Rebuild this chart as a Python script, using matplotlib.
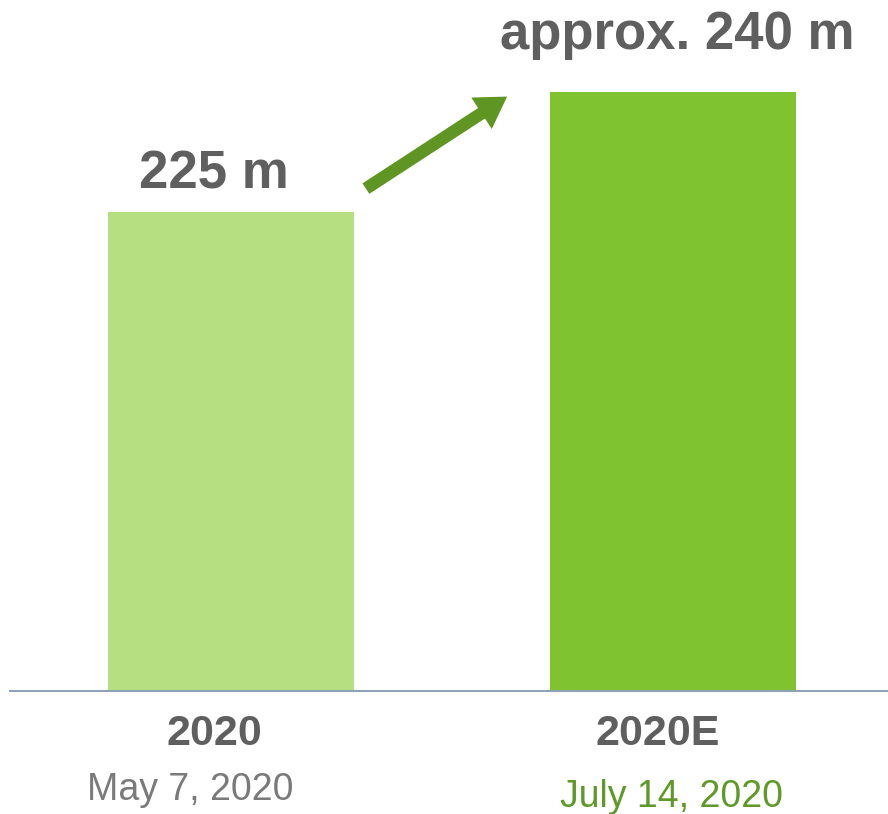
import matplotlib.pyplot as plt
from matplotlib.patches import FancyArrowPatch

plt.rcParams['font.family'] = ['Liberation Sans', 'DejaVu Sans']

# data
categories = ['2020', '2020E']
values = [225, 240]
value_labels = ['225 m', 'approx. 240 m']
dates = ['May 7, 2020', 'July 14, 2020']

bar_colors = ['#b5df80', '#80c330']
date_colors = ['#7a7a7a', '#5f9a28']
text_gray = '#5f5f5f'
arrow_green = '#5f9623'

fig = plt.figure(figsize=(8.88, 8.14), dpi=100)
ax = fig.add_axes([0, 0.1511, 1, 0.8489])

x = list(range(len(categories)))
ax.bar(x, values, width=0.5566, color=bar_colors)

ax.set_xlim(-0.5226, 1.4864)
ax.set_ylim(165, 251.5)

for side in ['top', 'right', 'left']:
    ax.spines[side].set_visible(False)
ax.spines['bottom'].set_color('#8fa3b6')
ax.spines['bottom'].set_linewidth(1.5)
ax.spines['bottom'].set_bounds(-0.5, 1.4864)
ax.set_yticks([])
ax.set_xticks([])

# value labels above bars
offsets = [(-12, 17), (3, 31)]
for i, v in enumerate(values):
    ax.annotate(value_labels[i], xy=(i, v), xytext=offsets[i], textcoords='offset points',
                ha='center', va='baseline', fontsize=38, fontweight='bold', color=text_gray)

# category + date labels
date_offsets = [-78.5, -83.5]
date_dx = [-29, -1]
for i in x:
    ax.annotate(categories[i], xy=(i, 0), xycoords=('data', 'axes fraction'),
                xytext=(-12 if i == 0 else -11, -39), textcoords='offset points',
                ha='center', va='baseline', fontsize=31, fontweight='bold', color=text_gray)
    ax.annotate(dates[i], xy=(i, 0), xycoords=('data', 'axes fraction'),
                xytext=(date_dx[i], date_offsets[i]), textcoords='offset points',
                ha='center', va='baseline', fontsize=27, color=date_colors[i])

# growth arrow
arrow = FancyArrowPatch((0.30, 227.7), (0.63, 239.6),
                        arrowstyle='simple,head_width=1.35,head_length=1.1,tail_width=0.45',
                        mutation_scale=20, color=arrow_green, linewidth=0)
ax.add_patch(arrow)

plt.savefig('out.png', dpi=100)
